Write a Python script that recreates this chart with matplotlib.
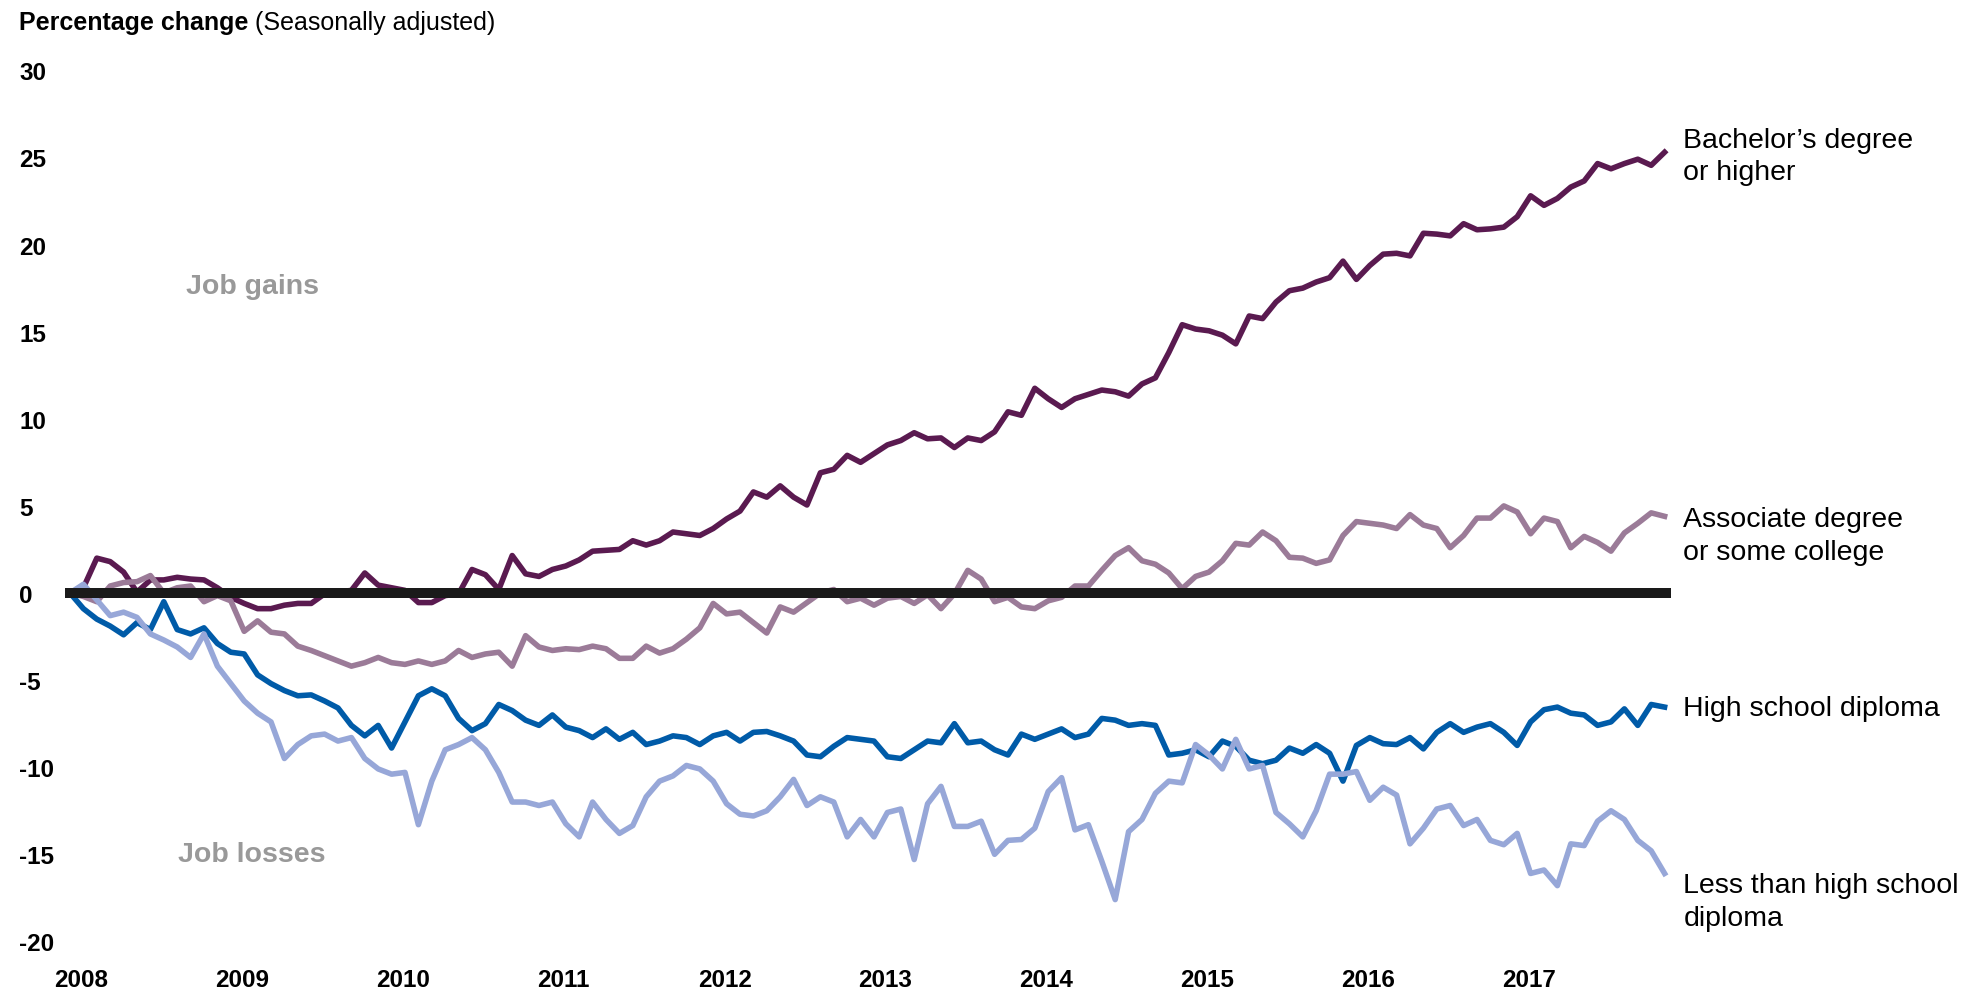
import matplotlib
matplotlib.use("Agg")
import matplotlib.pyplot as plt
import numpy as np

plt.rcParams["font.family"] = ["Liberation Sans", "DejaVu Sans"]

# === Data: monthly % change in employment since Jan 2008 (Jan 2008 - Dec 2017) ===

bachelor = [
    0.0, 0.3, 2.0, 1.8, 1.2, 0.05, 0.75, 0.75, 0.9, 0.8,
    0.75, 0.3, -0.25, -0.6, -0.9, -0.9, -0.7, -0.6, -0.6, -0.05,
    0.05, 0.15, 1.15, 0.45, 0.3, 0.15, -0.55, -0.55, -0.15, -0.05,
    1.35, 1.05, 0.2, 2.15, 1.1, 0.95, 1.35, 1.55, 1.9, 2.4,
    2.45, 2.5, 3.0, 2.75, 3.0, 3.5, 3.4, 3.3, 3.7, 4.25,
    4.7, 5.8, 5.5, 6.15, 5.5, 5.05, 6.9, 7.1, 7.9, 7.5,
    8.0, 8.5, 8.75, 9.2, 8.85, 8.9, 8.35, 8.9, 8.75, 9.25,
    10.4, 10.2, 11.75, 11.15, 10.65, 11.15, 11.4, 11.65, 11.55, 11.3,
    12.0, 12.35, 13.8, 15.4, 15.15, 15.05, 14.8, 14.3, 15.9, 15.75,
    16.7, 17.35, 17.5, 17.85, 18.1, 19.05, 18.0, 18.8, 19.45, 19.5,
    19.35, 20.65, 20.6, 20.5, 21.2, 20.85, 20.9, 21.0, 21.6, 22.8,
    22.25, 22.65, 23.3, 23.65, 24.65, 24.35, 24.65, 24.9, 24.55, 25.3,
]

associate = [
    0.0, -0.2, -0.5, 0.4, 0.6, 0.65, 1.0, 0.0, 0.3, 0.4,
    -0.5, -0.15, -0.45, -2.2, -1.6, -2.25, -2.35, -3.05, -3.3, -3.6,
    -3.9, -4.2, -4.0, -3.7, -4.0, -4.1, -3.9, -4.1, -3.9, -3.3,
    -3.7, -3.5, -3.4, -4.2, -2.45, -3.1, -3.3, -3.2, -3.25, -3.05,
    -3.2, -3.75, -3.75, -3.05, -3.45, -3.2, -2.65, -2.0, -0.6, -1.2,
    -1.1, -1.7, -2.3, -0.8, -1.1, -0.55, 0.0, 0.2, -0.5, -0.3,
    -0.7, -0.3, -0.2, -0.6, -0.1, -0.9, -0.05, 1.3, 0.8, -0.5,
    -0.25, -0.8, -0.9, -0.45, -0.25, 0.4, 0.4, 1.3, 2.15, 2.6,
    1.85, 1.65, 1.15, 0.25, 0.95, 1.2, 1.85, 2.85, 2.75, 3.5,
    3.0, 2.05, 2.0, 1.7, 1.9, 3.3, 4.1, 4.0, 3.9, 3.7,
    4.5, 3.9, 3.7, 2.6, 3.3, 4.3, 4.3, 5.0, 4.65, 3.4,
    4.3, 4.1, 2.6, 3.25, 2.9, 2.4, 3.45, 4.0, 4.6, 4.4,
]

high_school = [
    0.0, -0.9, -1.5, -1.9, -2.4, -1.7, -2.1, -0.5, -2.1, -2.35,
    -2.0, -2.9, -3.4, -3.5, -4.7, -5.2, -5.6, -5.9, -5.85, -6.2,
    -6.6, -7.6, -8.2, -7.6, -8.9, -7.4, -5.9, -5.5, -5.9, -7.2,
    -7.9, -7.5, -6.4, -6.75, -7.3, -7.6, -7.0, -7.7, -7.9, -8.3,
    -7.8, -8.4, -8.0, -8.7, -8.5, -8.2, -8.3, -8.7, -8.2, -8.0,
    -8.5, -8.0, -7.95, -8.2, -8.5, -9.3, -9.4, -8.8, -8.3, -8.4,
    -8.5, -9.4, -9.5, -9.0, -8.5, -8.6, -7.5, -8.6, -8.5, -9.0,
    -9.3, -8.1, -8.4, -8.1, -7.8, -8.3, -8.1, -7.2, -7.3, -7.6,
    -7.5, -7.6, -9.3, -9.2, -9.0, -9.4, -8.5, -8.8, -9.6, -9.8,
    -9.6, -8.9, -9.2, -8.7, -9.2, -10.8, -8.75, -8.3, -8.65, -8.7,
    -8.3, -8.95, -8.0, -7.5, -8.0, -7.7, -7.5, -8.0, -8.75, -7.4,
    -6.7, -6.55, -6.9, -7.0, -7.6, -7.4, -6.65, -7.6, -6.4, -6.55,
]

less_than_hs = [
    0.0, 0.5, -0.4, -1.3, -1.1, -1.4, -2.35, -2.7, -3.1, -3.7,
    -2.35, -4.2, -5.2, -6.2, -6.9, -7.4, -9.5, -8.7, -8.2, -8.1,
    -8.5, -8.3, -9.5, -10.1, -10.4, -10.3, -13.3, -10.8, -9.0, -8.7,
    -8.3, -9.0, -10.3, -12.0, -12.0, -12.2, -12.0, -13.25, -14.0, -12.0,
    -13.0, -13.8, -13.35, -11.7, -10.8, -10.5, -9.9, -10.1, -10.8, -12.1,
    -12.7, -12.8, -12.5, -11.7, -10.7, -12.2, -11.7, -12.0, -14.0, -13.0,
    -14.0, -12.6, -12.4, -15.3, -12.1, -11.1, -13.4, -13.4, -13.1, -15.0,
    -14.2, -14.15, -13.5, -11.4, -10.6, -13.6, -13.3, -15.4, -17.6, -13.7,
    -13.0, -11.5, -10.8, -10.9, -8.7, -9.3, -10.1, -8.4, -10.1, -9.9,
    -12.6, -13.25, -14.0, -12.5, -10.4, -10.4, -10.25, -11.9, -11.15, -11.6,
    -14.4, -13.5, -12.4, -12.2, -13.35, -13.0, -14.2, -14.45, -13.8, -16.1,
    -15.9, -16.8, -14.4, -14.5, -13.1, -12.5, -13.0, -14.2, -14.8, -16.1,
]

years = list(range(2008, 2018))
y_ticks = list(range(-20, 31, 5))

series = [bachelor, associate, high_school, less_than_hs]
series_names = [
    "Bachelor’s degree\nor higher",
    "Associate degree\nor some college",
    "High school diploma",
    "Less than high school\ndiploma",
]
series_colors = ["#5a1a50", "#9b7b98", "#005ba8", "#97a7d8"]
name_y = [25.1, 3.3, -6.6, -17.7]   # where each end label sits

# === Figure ===
W, H = 1965, 995
fig = plt.figure(figsize=(W / 100, H / 100), dpi=100)
ax = fig.add_axes([60 / W, 1 - 960 / H, 1620 / W, 920 / H])

months = np.arange(len(bachelor))
for vals, color in zip(series, series_colors):
    ax.plot(months, vals, color=color, lw=4.0, solid_joinstyle="round", zorder=3)

ax.axhline(0, xmin=0.003, xmax=0.9944, color="#1a1a1a", lw=7.2,
           solid_capstyle="butt", zorder=4)

ax.set_xlim(-0.746, 120.15)
ax.set_ylim(-21.01, 31.80)

ax.set_yticks(y_ticks)
ax.set_yticklabels([str(v) for v in y_ticks], fontsize=17.5, fontweight="bold",
                   ha="left")
ax.tick_params(axis="y", length=0, pad=29.5)

ax.set_xticks([12 * i + 0.85 for i in range(len(years))])
ax.set_xticklabels([str(y) for y in years], fontsize=17.5, fontweight="bold")
ax.tick_params(axis="x", length=0, pad=6.3)

for sp in ax.spines.values():
    sp.set_visible(False)

# end labels
for name, ypos in zip(series_names, name_y):
    ax.text(120.4, ypos, name, fontsize=20.5, va="center", ha="left",
            linespacing=1.32, clip_on=False)

# job gains / job losses
ax.text(13.6, 17.6, "Job gains", fontsize=20.5, fontweight="bold",
        color="#999999", ha="center", va="center")
ax.text(13.6, -15.0, "Job losses", fontsize=20.5, fontweight="bold",
        color="#999999", ha="center", va="center")

# title: bold part + regular part
t1 = fig.text(19 / W, 1 - 23 / H, "Percentage change", fontsize=18,
              fontweight="bold", va="center")
renderer = fig.canvas.get_renderer()
bb = t1.get_window_extent(renderer)
fig.text(bb.x1 / W, 1 - 23 / H, " (Seasonally adjusted)", fontsize=18,
         va="center")

fig.savefig("out.png", dpi=100)
